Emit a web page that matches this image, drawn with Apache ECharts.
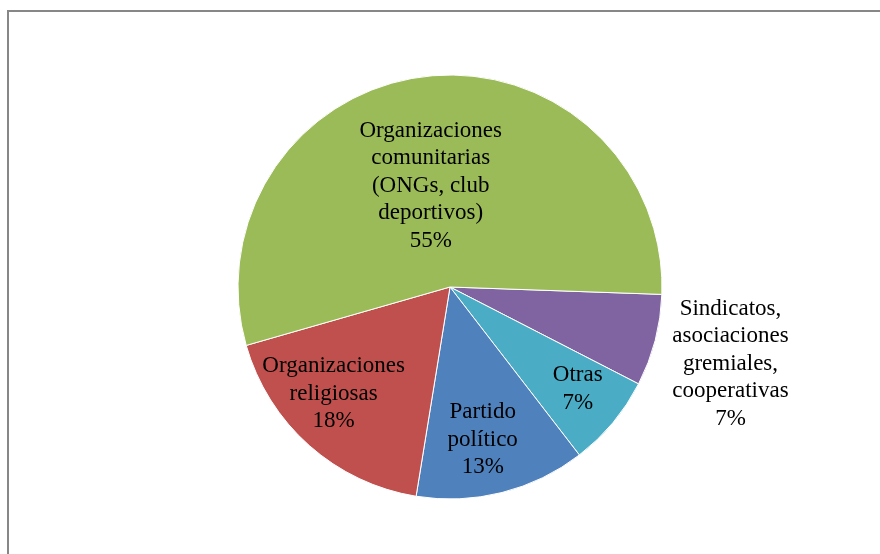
<!DOCTYPE html>
<html lang="es" style="height: 100%">
<head>
  <meta charset="utf-8">
</head>
<body style="height: 100%; margin: 0; background: #fff">
  <div style="position: absolute; left: 7px; top: 10px; right: -10px; bottom: -10px; border-top: 2px solid #878787; border-left: 2px solid #878787;"></div>
  <div id="container" style="position: absolute; left: 0; top: 0; width: 880px; height: 554px"></div>

  <script type="text/javascript" src="https://cdn.jsdelivr.net/npm/echarts@6/dist/echarts.min.js"></script>

  <script type="text/javascript">
    // datos (porcentajes), en orden horario desde la derecha
    var categorias = [
      'Sindicatos,\nasociaciones\ngremiales,\ncooperativas',
      'Otras',
      'Partido\npolítico',
      'Organizaciones\nreligiosas',
      'Organizaciones\ncomunitarias\n(ONGs, club\ndeportivos)'
    ];
    var valores = [7, 7, 13, 18, 55];
    var colores = ['#8064A2', '#4BACC6', '#4F81BD', '#C0504D', '#9BBB59'];
    // desplazamiento de cada etiqueta respecto a su posicion interior
    var desplazamientos = [[175, 49], [44, 32], [6, 47], [-44, 25], [-6, 7]];

    var dom = document.getElementById('container');
    var myChart = echarts.init(dom, null, { renderer: 'canvas' });

    var datos = categorias.map(function (c, i) {
      return {
        name: c,
        value: valores[i],
        itemStyle: { color: colores[i] },
        label: { offset: desplazamientos[i] }
      };
    });

    var option = {
      animation: false,
      series: [{
        type: 'pie',
        center: [450, 287],
        radius: 212,
        startAngle: -2,
        clockwise: true,
        avoidLabelOverlap: false,
        itemStyle: { borderColor: '#fff', borderWidth: 1 },
        label: {
          show: true,
          position: 'inside',
          formatter: function (p) { return p.name + '\n' + p.value + '%'; },
          fontFamily: '"Liberation Serif", "Times New Roman", serif',
          fontSize: 23,
          lineHeight: 27.5,
          color: '#000',
          align: 'center'
        },
        labelLine: { show: false },
        emphasis: { disabled: true },
        data: datos
      }]
    };

    myChart.setOption(option);

    window.addEventListener('resize', function () {
      myChart.resize();
    });
  </script>
</body>
</html>
